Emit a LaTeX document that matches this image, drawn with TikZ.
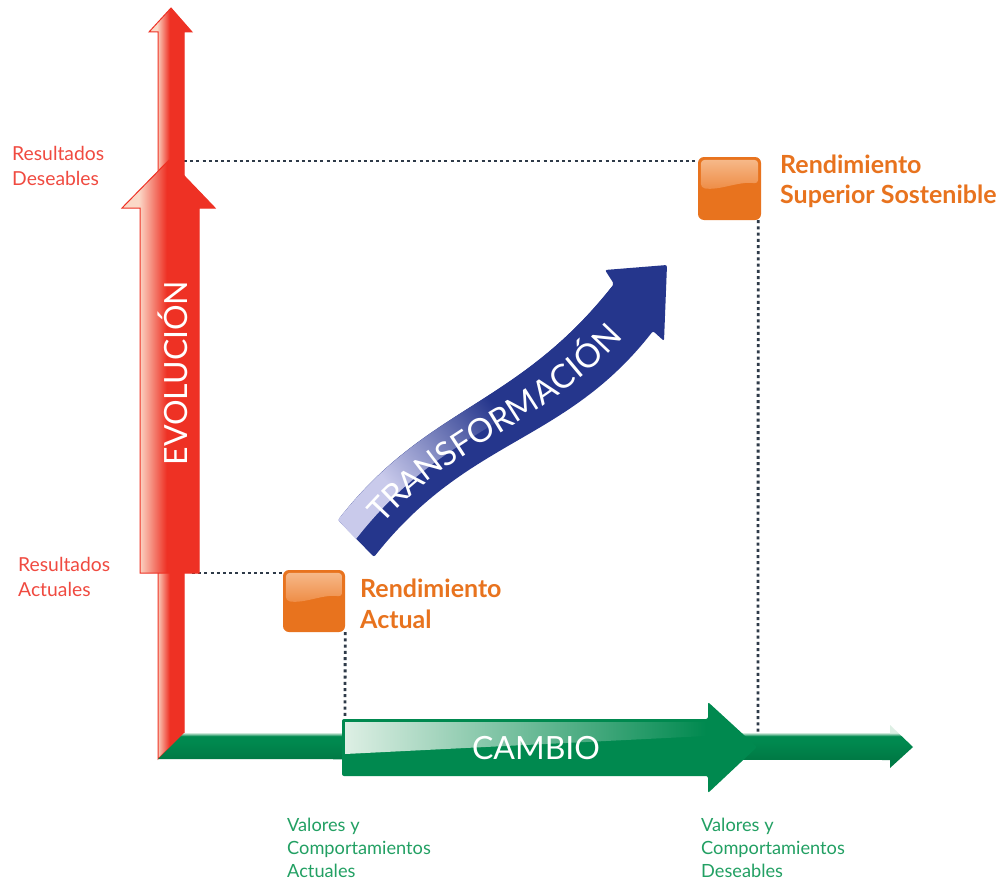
\documentclass[tikz,border=0pt]{standalone}
\usepackage{fontspec}
\setmainfont{Lato}
\usetikzlibrary{calc,decorations.text}
\definecolor{rmain}{HTML}{EE3124}
\definecolor{rlight}{HTML}{FBD9C8}
\definecolor{gmain}{HTML}{00894F}
\definecolor{gdark}{HTML}{007A45}
\definecolor{glight}{HTML}{DDEFE4}
\definecolor{bnavy}{HTML}{25368C}
\definecolor{blav}{HTML}{C9CAEB}
\definecolor{omain}{HTML}{E8731E}
\definecolor{olight}{HTML}{F6B888}
\definecolor{omid}{HTML}{EE8A42}
\definecolor{dotc}{HTML}{2E3A48}
\definecolor{rtext}{HTML}{F04A40}
\definecolor{gtext}{HTML}{22A063}
\definecolor{otext}{HTML}{E8731E}
\pgfdeclarehorizontalshading{redgloss}{100bp}{color(0bp)=(rlight); color(34bp)=(rlight); color(49bp)=(rmain); color(100bp)=(rmain)}
\pgfdeclareverticalshading{greenthin}{100bp}{color(0bp)=(gdark); color(36bp)=(gdark); color(56bp)=(gmain); color(62bp)=(gmain); color(66bp)=(glight); color(100bp)=(glight)}
\pgfdeclarehorizontalshading{bluegloss}{100bp}{color(0bp)=(blav); color(28bp)=(blav); color(52bp)=(bnavy); color(100bp)=(bnavy)}
\begin{document}
\begin{tikzpicture}[x=1pt,y=-1pt,
  dotline/.style={draw=dotc, line width=2.8pt, dash pattern=on 3pt off 3.2pt},
  lbl/.style={anchor=base west, inner sep=0pt},
  redlbl/.style={lbl, text=rtext, font=\fontsize{19.3}{22}\selectfont},
  grnlbl/.style={lbl, text=gtext, font=\fontsize{18.2}{20}\selectfont},
  orglbl/.style={lbl, text=otext, font=\bfseries\fontsize{25}{28}\selectfont},
  obox/.style={draw=none, fill=omain, rounded corners=6pt, minimum size=#1, inner sep=0pt},
  redarrow/.style={shading=redgloss, draw=rmain, line width=1pt},
]
\useasboundingbox (0,0) rectangle (1008,880);
\fill[white] (0,0) rectangle (1008,880);

% boxes (nodes) and anchor coordinates
\node[obox=62pt] (boxA) at (314,601) {};
\node[obox=63pt] (boxB) at (729.5,188.5) {};
\coordinate (topL) at (184,161);
\coordinate (lowL) at (192,573);
\coordinate (axA) at (345,719);
\coordinate (axB) at (758,733);

% dotted guides
\draw[dotline] (topL) -- (boxB.west |- topL);
\draw[dotline] ([xshift=-3pt]boxB.south east) -- (axB);
\draw[dotline] (lowL) -- (boxA.west |- lowL);
\draw[dotline] (boxA.south east) -- (axA);

% red arrows
\shadedraw[redarrow] (158,759) -- (158,32) -- (149,32) -- (171,8) -- (192,32) -- (184,32) -- (184,733) -- cycle;
\shadedraw[redarrow] (140,573) -- (140,208) -- (122,208) -- (169,160) -- (215,208) -- (199,208) -- (199,573) -- cycle;
\node[rotate=90, text=white, font=\fontsize{32}{32}\selectfont, inner sep=0pt] (evo) at (172.5,373) {EVOLUCIÓN};

% green arrows
\shade[shading=greenthin] (158,759) -- (184,733) -- (890,733) -- (890,725) -- (913,747) -- (890,768) -- (890,760) -- cycle;
\fill[gmain, rounded corners=2pt] (342,719) -- (708,719) -- (708,702) -- (757,747) -- (708,793) -- (708,776) -- (342,776) -- cycle;
\shade[left color=glight, right color=gmain] (345,722) -- (706,722) -- (706,736) -- (345,754) -- cycle;
\node[text=white, font=\fontsize{32}{32}\selectfont, inner sep=0pt] (cambio) at (536,748.5) {CAMBIO};

% blue arrow
\fill[bnavy, rounded corners=2pt] (338,520) .. controls (427.9,404.8) and (517.5,407.2) .. (614,284) -- (605,270) -- (667,265) -- (664,341) -- (653,331) .. controls (564.7,444.2) and (468.9,436.8) .. (374,557) -- cycle;
\shade[shading=bluegloss, shading angle=40] (338,520) .. controls (427.9,404.8) and (517.5,407.2) .. (614,284) -- (633.5,307.5) .. controls (541.1,425.7) and (448.4,420.8) .. (356,539) -- cycle;
\path[postaction={decorate}, decoration={text along path, text align=center, raise=-11pt,
  text={|\fontsize{33}{33}\selectfont\color{white}|TRANSFORMACIÓN}}]
  (356,539) .. controls (448.4,420.8) and (541.1,425.7) .. (633.5,307.5);

% box highlights
\foreach \b in {boxA,boxB}{
  \shade[top color=olight, bottom color=omid, rounded corners=4pt]
    ($(\b.north west)+(3,3)$) -- ($(\b.north east)+(-3,3)$) -- ($(\b.north east)+(-3,27)$)
    .. controls ($(\b.north east)+(-22,24)$) and ($(\b.north west)+(22,34)$) .. ($(\b.north west)+(3,31)$) -- cycle;
}

% labels
\node[redlbl] (rd1) at (12,160) {Resultados};
\node[redlbl] (rd2) at (12,185) {Deseables};
\node[redlbl] (ra1) at (18,571) {Resultados};
\node[redlbl] (ra2) at (18,596) {Actuales};
\node[orglbl] (oa1) at (360,597) {Rendimiento};
\node[orglbl] (oa2) at (360,628) {Actual};
\node[orglbl] (ob1) at (780,173) {Rendimiento};
\node[orglbl] (ob2) at (780,203) {Superior Sostenible};
\node[grnlbl] (ga1) at (287,831) {Valores y};
\node[grnlbl] (ga2) at (287,854) {Comportamientos};
\node[grnlbl] (ga3) at (287,877) {Actuales};
\node[grnlbl] (gb1) at (701,831) {Valores y};
\node[grnlbl] (gb2) at (701,854) {Comportamientos};
\node[grnlbl] (gb3) at (701,877) {Deseables};
\end{tikzpicture}
\end{document}
